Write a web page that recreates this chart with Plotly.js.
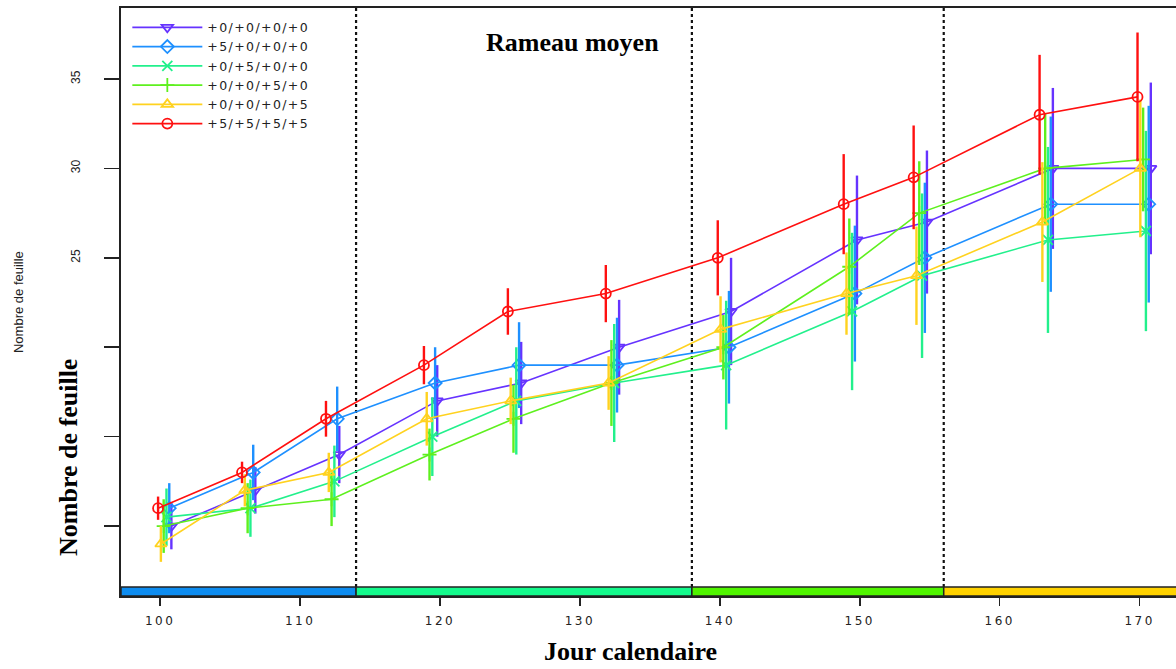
<!DOCTYPE html>
<html>
<head>
<meta charset="utf-8">
<script src="https://cdn.plot.ly/plotly-3.0.1.min.js"></script>
<style>
html,body{margin:0;padding:0;background:#fff;}
#chart{width:1176px;height:669px;}
.xtick text{letter-spacing:2.5px;}
.legendtext{letter-spacing:1.4px;}
</style>
</head>
<body>
<div id="chart"></div>
<script>
// ---- data ----
const days = [100, 106, 112, 119, 125, 132, 140, 149, 154, 163, 170];
const seriesNames = ["+0/+0/+0/+0", "+5/+0/+0/+0", "+0/+5/+0/+0", "+0/+0/+5/+0", "+0/+0/+0/+5", "+5/+5/+5/+5"];
const s0000 = [10, 12, 14, 17, 18, 20, 22, 26, 27, 30, 30];
const s5000 = [11, 13, 16, 18, 19, 19, 20, 23, 25, 28, 28];
const s0500 = [10.5, 11, 12.5, 15, 17, 18, 19, 22, 24, 26, 26.5];
const s0050 = [10, 11, 11.5, 14, 16, 18, 20, 24.5, 27.5, 30, 30.5];
const s0005 = [9, 12, 13, 16, 17, 18, 21, 23, 24, 27, 30];
const s5555 = [11, 13, 16, 19, 22, 23, 25, 28, 29.5, 33, 34];
const e0000 = [1.3, 1.3, 1.6, 2.0, 2.3, 2.65, 3.0, 3.6, 4.0, 4.5, 4.8];
const e5000 = [1.4, 1.55, 1.8, 2.0, 2.4, 2.65, 3.15, 3.8, 4.2, 4.9, 5.5];
const e0500 = [1.6, 1.6, 2.0, 2.2, 3.0, 3.3, 3.6, 4.4, 4.6, 5.2, 5.6];
const e0050 = [1.5, 1.4, 1.5, 1.45, 1.9, 2.4, 1.8, 2.7, 2.9, 3.1, 2.9];
const e0005 = [1.0, 0.9, 1.1, 1.5, 1.3, 1.5, 1.85, 2.3, 2.75, 3.35, 3.85];
const e5555 = [0.65, 0.6, 1.0, 1.07, 1.3, 1.6, 2.1, 2.8, 2.9, 3.35, 3.6];
const stageBounds = [114, 138, 156];
const yTickVals = [10, 15, 20, 25, 30, 35];
const yTickText = ["", "", "", "25", "30", "35"];
const xTickVals = [100, 110, 120, 130, 140, 150, 160, 170];

// ---- styling ----
const values = [s0000, s5000, s0500, s0050, s0005, s5555];
const errors = [e0000, e5000, e0500, e0050, e0005, e5555];
const colors = ["#6633ff", "#1e90ff", "#22f08c", "#5ef01e", "#ffd21f", "#ff1010"];
const symbols = ["triangle-down-open", "diamond-open", "x-thin-open", "cross-thin-open", "triangle-up-open", "circle-open"];
const dodge = [0.8, 0.65, 0.45, 0.25, 0.05, -0.15];
const stageColors = ["#0d8cf0", "#14fa8c", "#50f500", "#ffd200"];
const xRange = [97.2, 172.6];
const yRange = [6.09, 38.97];

const traces = values.map((v, i) => ({
  type: "scatter",
  mode: "lines+markers",
  name: seriesNames[i],
  x: days.map(d => d + dodge[i]),
  y: v,
  line: {color: colors[i], width: 1.6},
  marker: {symbol: symbols[i], size: 10, color: colors[i], line: {color: colors[i], width: 1.8}},
  error_y: {type: "data", array: errors[i], visible: true, color: colors[i], thickness: 2.4, width: 0}
}));

const barH = 9 / 588;
const edges = [xRange[0]].concat(stageBounds, [xRange[1] + 1]);
const shapes = [];
for (let k = 0; k < stageColors.length; k++) {
  shapes.push({type: "rect", xref: "x", yref: "paper", x0: edges[k], x1: edges[k + 1], y0: 0, y1: barH,
    fillcolor: stageColors[k], line: {color: "#222", width: 1.5}, layer: "above"});
}
stageBounds.forEach(b => shapes.push({type: "line", xref: "x", yref: "paper", x0: b, x1: b, y0: barH, y1: 1,
  line: {color: "#111", width: 2.2, dash: "dot"}, layer: "below"}));

const serif = "Liberation Serif, Times New Roman, serif";
const layout = {
  width: 1176, height: 669,
  margin: {l: 121, r: 0, t: 8, b: 73, pad: 0},
  paper_bgcolor: "#fff", plot_bgcolor: "#fff",
  showlegend: true,
  legend: {x: 0.006, y: 0.992, xanchor: "left", yanchor: "top", bgcolor: "rgba(0,0,0,0)",
    font: {family: "DejaVu Sans, sans-serif", size: 12.5, color: "#222"}, itemwidth: 70, traceorder: "normal"},
  xaxis: {range: xRange, tickmode: "array", tickvals: xTickVals, ticks: "outside", ticklen: 8, tickwidth: 1.5,
    tickcolor: "#222", showgrid: false, zeroline: false, showline: true, mirror: true, linecolor: "#222", linewidth: 2,
    ticklabelstandoff: 5,
    tickfont: {family: "DejaVu Sans, sans-serif", size: 12, color: "#222"}},
  yaxis: {range: yRange, tickmode: "array", tickvals: yTickVals, ticktext: yTickText, ticks: "outside", ticklen: 15,
    tickwidth: 1.5, tickcolor: "#222", tickangle: -90, showgrid: false, zeroline: false, showline: true, mirror: false,
    ticklabelstandoff: 19,
    linecolor: "#222", linewidth: 2, tickfont: {family: "Liberation Sans, Arial, sans-serif", size: 12, color: "#222"}},
  shapes: shapes,
  annotations: [
    {text: "<b>Rameau moyen</b>", xref: "paper", yref: "paper", x: 0.4275, y: 0.9405, showarrow: false,
      font: {family: serif, size: 26, color: "#000"}, xanchor: "center", yanchor: "middle"},
    {text: "<b>Jour calendaire</b>", xref: "paper", yref: "paper", x: 0.4834, y: -0.0952, showarrow: false,
      font: {family: serif, size: 26, color: "#000"}, xanchor: "center", yanchor: "middle"},
    {text: "<b>Nombre de feuille</b>", xref: "paper", yref: "paper", x: -0.0493, y: 0.2364, showarrow: false,
      textangle: -90, font: {family: serif, size: 26, color: "#000"}, xanchor: "center", yanchor: "middle"},
    {text: "Nombre de feuille", xref: "paper", yref: "paper", x: -0.0976, y: 0.5, showarrow: false,
      textangle: -90, font: {family: "Liberation Sans Narrow, Arial Narrow, Liberation Sans, sans-serif", size: 13, color: "#222"},
      xanchor: "center", yanchor: "middle"}
  ]
};

Plotly.newPlot("chart", traces, layout, {displayModeBar: false, staticPlot: true});
</script>
</body>
</html>
